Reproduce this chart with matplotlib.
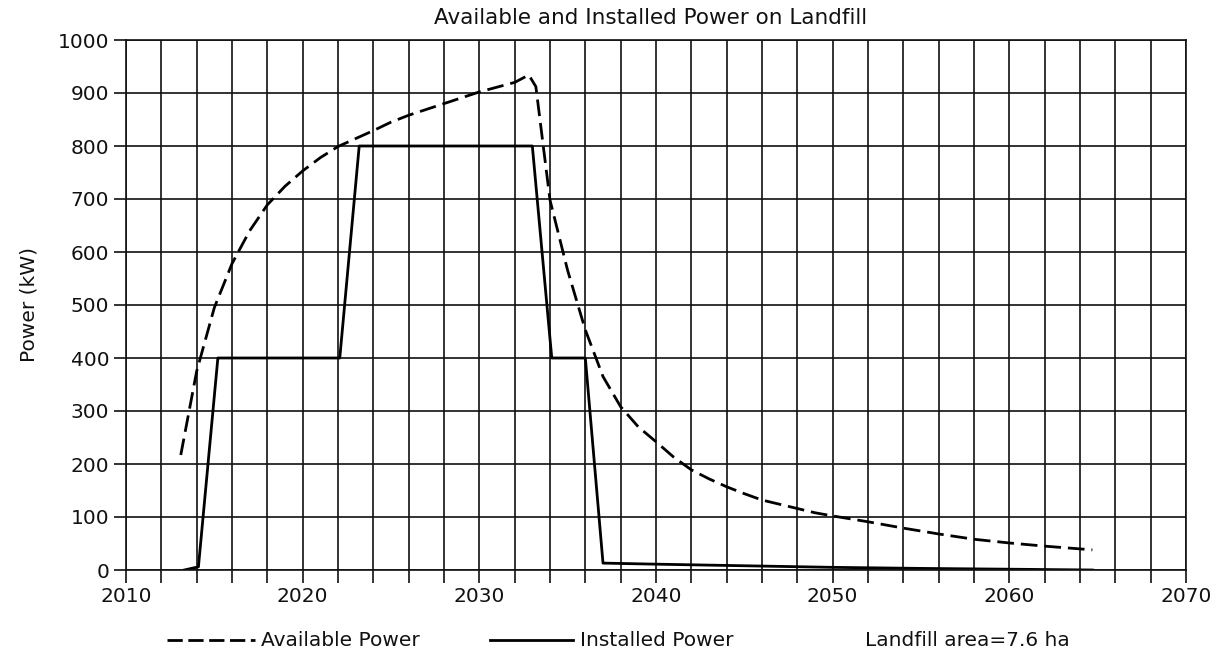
import matplotlib
matplotlib.use("Agg")
import matplotlib.pyplot as plt
from matplotlib.lines import Line2D
from matplotlib.ticker import MultipleLocator

# Available power (dashed), kW
avail_years = [2013.1, 2014, 2015, 2016, 2017, 2018, 2019, 2020, 2021, 2022,
               2023, 2024, 2025, 2026, 2027, 2028, 2029, 2030, 2031, 2032,
               2032.8, 2033.2, 2034, 2035, 2036, 2037, 2038, 2039, 2040, 2041,
               2042, 2043, 2044, 2045, 2046, 2047, 2048, 2049, 2050, 2052,
               2054, 2056, 2058, 2060, 2062, 2064.7]
avail_power = [217, 375, 495, 578, 640, 689, 724, 753, 778, 799,
               814, 829, 845, 858, 869, 880, 891, 902, 911, 920,
               934, 912, 698, 565, 453, 365, 308, 270, 242, 213,
               189, 172, 157, 144, 132, 124, 116, 108, 102, 91,
               79, 68, 58, 51, 45, 38]

# Installed power (solid), kW
inst_years = [2013.3, 2014.1, 2015.2, 2022.1, 2023.2, 2033.0, 2034.1, 2036.0,
              2037.0, 2040, 2045, 2050, 2055, 2060, 2064.7]
inst_power = [0, 6, 400, 400, 800, 800, 400, 400,
              13, 11, 8, 5, 3, 1.5, 0]

W, H = 1216, 654
FONT = 14.5
INK = "#111111"

plt.rcParams["font.family"] = ["DejaVu Sans"]
plt.rcParams["lines.scale_dashes"] = False

fig = plt.figure(figsize=(W / 100, H / 100), dpi=100)
ax = fig.add_axes([126 / W, 1 - 570 / H, (1186 - 126) / W, (570 - 40) / H])

ax.plot(avail_years, avail_power, color="black", lw=2.0,
        linestyle=(0, (12, 5)))
ax.plot(inst_years, inst_power, color="black", lw=2.0)

ax.set_xlim(2010, 2070)
ax.set_ylim(0, 1000)
ax.xaxis.set_major_locator(MultipleLocator(10))
ax.xaxis.set_minor_locator(MultipleLocator(2))
ax.yaxis.set_major_locator(MultipleLocator(100))

ax.grid(True, which="both", color=INK, lw=1.2)
ax.set_axisbelow(True)
ax.tick_params(which="both", direction="out", length=9, width=1.2,
               color=INK, labelsize=FONT, colors=INK)
ax.tick_params(axis="x", pad=3)
ax.tick_params(axis="y", pad=3)
for s in ax.spines.values():
    s.set_color(INK)
    s.set_linewidth(1.2)

ax.set_ylabel("Power (kW)", fontsize=FONT, color=INK, labelpad=14)
fig.text(651 / W, 1 - 18 / H, "Available and Installed Power on Landfill",
         ha="center", va="center", fontsize=15.5, color=INK)

# legend row under the axis
ly = 1 - 640 / H
fig.add_artist(Line2D([167 / W, 255 / W], [ly, ly], transform=fig.transFigure,
                      color="black", lw=2.0, linestyle=(0, (11, 4))))
fig.text(261 / W, ly, "Available Power", ha="left", va="center",
         fontsize=FONT, color=INK)
fig.add_artist(Line2D([490 / W, 573 / W], [ly, ly], transform=fig.transFigure,
                      color="black", lw=2.0))
fig.text(580 / W, ly, "Installed Power", ha="left", va="center",
         fontsize=FONT, color=INK)
fig.text(865 / W, ly, "Landfill area=7.6 ha", ha="left", va="center",
         fontsize=FONT, color=INK)

fig.savefig("out.png", dpi=100)
